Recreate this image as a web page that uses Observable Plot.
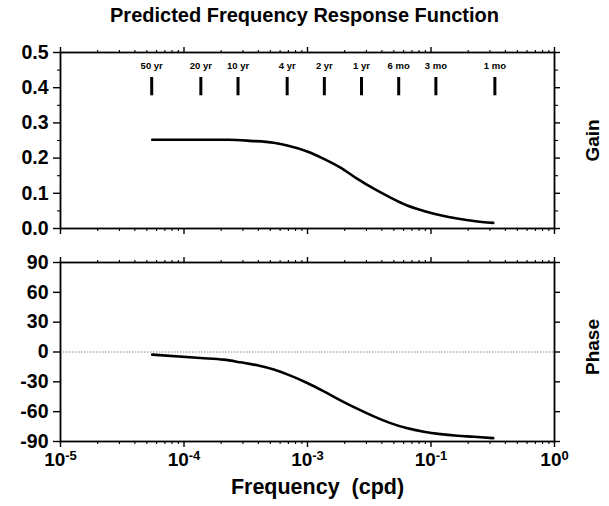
<!DOCTYPE html>
<html>
<head>
<meta charset="utf-8">
<script src="https://cdn.jsdelivr.net/npm/d3@7"></script>
<script src="https://cdn.jsdelivr.net/npm/@observablehq/plot@0.6"></script>
<style>
  html, body { margin: 0; padding: 0; background: #fff; }
  #wrap { position: relative; width: 609px; height: 506px; overflow: hidden;
          font-family: "Liberation Sans", Arial, Helvetica, sans-serif; color: #000; }
  #title { position: absolute; left: 0; top: 3px; width: 609px; text-align: center;
           font-weight: bold; font-size: 20px; line-height: 25px; }
  #gain { position: absolute; left: 0; top: 30px; }
  #phase { position: absolute; left: 0; top: 245px; }
</style>
</head>
<body>
<div id="wrap">
  <div id="title">Predicted Frequency Response Function</div>
  <div id="gain"></div>
  <div id="phase"></div>
</div>
<script>
// ---------- data ----------
const titleText = "Predicted Frequency Response Function";
const xLabelText = "Frequency\u00a0\u00a0(cpd)";
const gainLabelText = "Gain";
const phaseLabelText = "Phase";

const decades = [1e-5, 1e-4, 1e-3, 1e-2, 1e-1];
const xTickExponents = ["-5", "-4", "-3", "-1", "0"];   // as printed in the original
const minorMultipliers = [2, 3, 4, 5, 6, 7, 8, 9];

const gainTicks = [0, 0.1, 0.2, 0.3, 0.4, 0.5];
const gainTickLabels = ["0.0", "0.1", "0.2", "0.3", "0.4", "0.5"];
const gainMinorTicks = [0.05, 0.15, 0.25, 0.35, 0.45];

const phaseTicks = [-90, -60, -30, 0, 30, 60, 90];
const phaseTickLabels = ["-90", "-60", "-30", "0", "30", "60", "90"];

const periodLabels = ["50 yr", "20 yr", "10 yr", "4 yr", "2 yr", "1 yr", "6 mo", "3 mo", "1 mo"];
const periodDays = [18262.5, 7305, 3652.5, 1461, 730.5, 365.25, 182.6, 91.3, 30.4];

const gainFreq = [5.53e-5, 1.36e-4, 2.29e-4, 3.45e-4, 5.33e-4, 6.85e-4, 9.95e-4, 1.355e-3, 1.85e-3,
                  2.52e-3, 3.44e-3, 4.70e-3, 6.34e-3, 8.75e-3, 1.194e-2, 1.63e-2, 2.22e-2, 3.19e-2];
const gainValues = [0.252, 0.252, 0.252, 0.249, 0.2435, 0.236, 0.219, 0.198, 0.173,
                    0.1415, 0.113, 0.0878, 0.066, 0.050, 0.0377, 0.0283, 0.0215, 0.0159];

const phaseFreq = [5.53e-5, 1.36e-4, 2.10e-4, 2.87e-4, 3.92e-4, 5.33e-4, 7.28e-4, 9.95e-4, 1.355e-3, 1.85e-3,
                   2.52e-3, 3.44e-3, 4.70e-3, 6.34e-3, 8.75e-3, 1.194e-2, 1.63e-2, 2.22e-2, 3.19e-2];
const phaseValues = [-2.6, -6.0, -7.7, -10.4, -13.4, -17.7, -23.8, -31.2, -39.6, -48.6,
                     -57, -64.7, -71.5, -76.5, -80.2, -82.6, -84.2, -85.2, -86.6];

// ---------- derived tables ----------
const minorX = decades.slice(0, -1).flatMap(d => minorMultipliers.map(m => m * d));
const gainData = gainFreq.map((f, i) => ({f, g: gainValues[i]}));
const phaseData = phaseFreq.map((f, i) => ({f, p: phaseValues[i]}));
const periods = periodLabels.map((label, i) => ({label, f: 1 / periodDays[i]}));

document.getElementById("title").textContent = titleText;

const FONT = "'Liberation Sans', Arial, Helvetica, sans-serif";
const W = 609;
const xScale = {type: "log", domain: [1e-5, 1e-1]};

function xTickMarks() {
  return [
    Plot.axisX({anchor: "top", ticks: decades, tickSize: 6, fill: "none", strokeWidth: 1.4}),
    Plot.axisX({anchor: "top", ticks: minorX, tickSize: 3, fill: "none", strokeWidth: 1.1}),
    Plot.axisX({anchor: "bottom", ticks: decades, tickSize: 6, fill: "none", strokeWidth: 1.4}),
    Plot.axisX({anchor: "bottom", ticks: minorX, tickSize: 3, fill: "none", strokeWidth: 1.1})
  ];
}

// ---------- gain panel ----------
const gainPlot = Plot.plot({
  width: W, height: 240,
  marginTop: 22, marginBottom: 42, marginLeft: 60, marginRight: 55,
  x: xScale,
  y: {domain: [0, 0.5]},
  style: {fontFamily: FONT, fontWeight: "bold", fontSize: "19.5px", background: "#fff", color: "#000"},
  marks: [
    ...xTickMarks(),
    Plot.axisY({anchor: "left", ticks: gainTicks, tickSize: 7, tickPadding: 5, strokeWidth: 1.4,
                tickFormat: d => gainTickLabels[gainTicks.indexOf(d)], label: null}),
    Plot.axisY({anchor: "left", ticks: gainMinorTicks, tickSize: 3, fill: "none", strokeWidth: 1.1}),
    Plot.axisY({anchor: "right", ticks: gainTicks, tickSize: 5, fill: "none", strokeWidth: 1.4}),
    Plot.axisY({anchor: "right", ticks: gainMinorTicks, tickSize: 3, fill: "none", strokeWidth: 1.1}),
    Plot.frame({stroke: "#000", strokeWidth: 1.8}),
    Plot.ruleX(periods, {x: "f", y1: 0.377, y2: 0.429, stroke: "#000", strokeWidth: 3}),
    Plot.text(periods, {x: "f", y: 0.4615, text: "label", fontSize: 9.5, fontWeight: "bold", fill: "#000"}),
    Plot.line(gainData, {x: "f", y: "g", stroke: "#000", strokeWidth: 2.6, curve: "monotone-x"}),
    Plot.text([gainLabelText], {text: d => d, frameAnchor: "right", textAnchor: "middle", dx: 38, rotate: -90,
                                fontSize: 19, fontWeight: "bold", fill: "#000"})
  ]
});
document.getElementById("gain").appendChild(gainPlot);

// ---------- phase panel ----------
const phasePlot = Plot.plot({
  width: W, height: 261,
  marginTop: 17, marginBottom: 65, marginLeft: 60, marginRight: 55,
  x: xScale,
  y: {domain: [-90, 90]},
  style: {fontFamily: FONT, fontWeight: "bold", fontSize: "19.5px", background: "#fff", color: "#000"},
  marks: [
    Plot.ruleY([0], {stroke: "#666", strokeWidth: 0.8, strokeDasharray: "1.5,1.5"}),
    ...xTickMarks(),
    Plot.axisX({anchor: "bottom", ticks: decades, tickSize: 0, tickPadding: 11, label: null, fontSize: 19,
                tickFormat: d => "10" + xTickExponents[decades.indexOf(d)]}),
    Plot.axisY({anchor: "left", ticks: phaseTicks, tickSize: 7, tickPadding: 5, strokeWidth: 1.4,
                tickFormat: d => phaseTickLabels[phaseTicks.indexOf(d)], label: null}),
    Plot.axisY({anchor: "right", ticks: phaseTicks, tickSize: 5, fill: "none", strokeWidth: 1.4}),
    Plot.frame({stroke: "#000", strokeWidth: 1.8}),
    Plot.line(phaseData, {x: "f", y: "p", stroke: "#000", strokeWidth: 2.6, curve: "monotone-x"}),
    Plot.text([phaseLabelText], {text: d => d, frameAnchor: "right", textAnchor: "middle", dx: 38, dy: -5, rotate: -90,
                                 fontSize: 19, fontWeight: "bold", fill: "#000"}),
    Plot.text([xLabelText], {text: d => d, frameAnchor: "bottom", dx: 10, dy: 52,
                             fontSize: 21.5, fontWeight: "bold", fill: "#000"})
  ]
});
document.getElementById("phase").appendChild(phasePlot);

// superscript exponents for the x tick labels
phasePlot.querySelectorAll('g[aria-label="x-axis tick label"] text').forEach(t => {
  const s = t.textContent;
  const base = s.slice(0, 2), exp = s.slice(2);
  t.textContent = "";
  const ns = "http://www.w3.org/2000/svg";
  const b = document.createElementNS(ns, "tspan"); b.textContent = base;
  const e = document.createElementNS(ns, "tspan"); e.textContent = exp;
  e.setAttribute("dy", "-0.45em"); e.setAttribute("font-size", "13px");
  t.appendChild(b); t.appendChild(e);
});
</script>
</body>
</html>
